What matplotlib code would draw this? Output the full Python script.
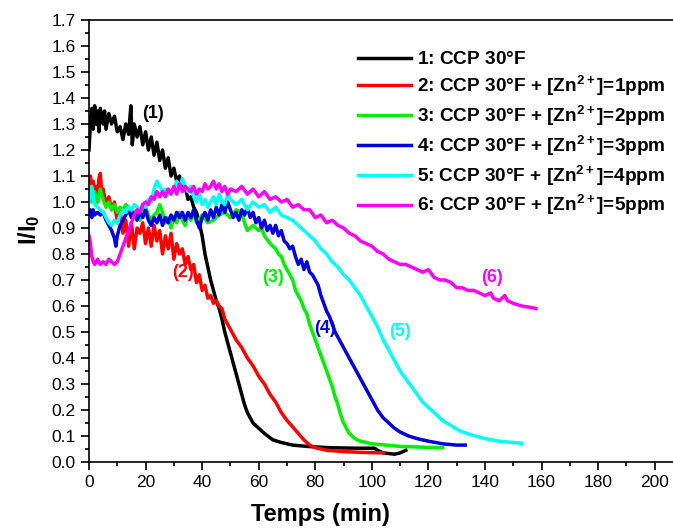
import numpy as np
import matplotlib
matplotlib.use("Agg")
import matplotlib.pyplot as plt
from matplotlib.ticker import MultipleLocator, FormatStrFormatter

# --- datos ---
t1 = [0, 0.5, 1, 1.5, 2, 2.5, 3, 3.5, 4, 5, 5.5, 6, 7, 8, 9, 10, 11, 12, 13, 14, 14.8, 15.3,
      16, 17, 18, 19, 20, 21, 22, 23, 24, 25, 26, 27, 28, 29, 30, 31, 32, 33, 34, 35, 36,
      37, 38, 39, 40, 41, 42, 43, 44, 45, 46, 47, 48, 49, 50, 51, 52, 53, 54, 55, 56, 57,
      58, 60, 62, 65, 68, 72, 77, 85, 95, 101, 102, 104, 108, 110, 112]
y1 = [1.20, 1.30, 1.36, 1.28, 1.37, 1.30, 1.35, 1.27, 1.36, 1.30, 1.35, 1.28, 1.34, 1.30,
      1.33, 1.27, 1.29, 1.24, 1.30, 1.26, 1.37, 1.22, 1.30, 1.25, 1.29, 1.22, 1.27, 1.20,
      1.25, 1.18, 1.23, 1.16, 1.20, 1.13, 1.17, 1.10, 1.13, 1.08, 1.10, 1.05, 1.06, 1.01,
      1.02, 0.98, 0.96, 0.92, 0.87, 0.80, 0.75, 0.70, 0.66, 0.62, 0.59, 0.55, 0.50, 0.46,
      0.42, 0.38, 0.34, 0.30, 0.26, 0.22, 0.19, 0.17, 0.15, 0.13, 0.11, 0.085, 0.075,
      0.065, 0.060, 0.055, 0.053, 0.053, 0.045, 0.035, 0.030, 0.035, 0.045]

t2 = [0, 0.5, 1, 1.5, 2, 2.5, 3, 3.5, 4, 4.5, 5, 6, 7, 8, 9, 10, 11, 12, 13, 14, 15, 16,
      17, 18, 19, 20, 21, 22, 23, 24, 25, 26, 27, 28, 29, 30, 31, 32, 33, 34, 35, 36, 37,
      38, 39, 40, 41, 42, 43, 44, 45, 46, 47, 48, 49, 50, 52, 54, 56, 58, 60, 62, 64, 66,
      68, 70, 72, 74, 76, 78, 80, 84, 90, 96, 104]
y2 = [1.05, 1.10, 1.04, 1.08, 1.02, 1.06, 1.00, 1.09, 1.11, 1.03, 1.05, 0.99, 1.02, 0.97,
      1.00, 0.92, 0.97, 0.88, 0.93, 0.83, 0.92, 0.82, 0.90, 0.88, 0.92, 0.84, 0.90, 0.83,
      0.91, 0.85, 0.89, 0.80, 0.87, 0.82, 0.88, 0.78, 0.84, 0.80, 0.82, 0.76, 0.79, 0.74,
      0.76, 0.69, 0.72, 0.66, 0.68, 0.63, 0.64, 0.61, 0.62, 0.60, 0.59, 0.55, 0.53, 0.51,
      0.47, 0.44, 0.40, 0.37, 0.33, 0.30, 0.26, 0.23, 0.19, 0.16, 0.135, 0.11, 0.085,
      0.065, 0.055, 0.045, 0.040, 0.037, 0.035]

t3 = [0, 0.5, 1, 2, 3, 4, 5, 6, 7, 8, 9, 10, 11, 12, 13, 14, 15, 16, 17, 18, 19, 20, 21,
      22, 23, 24, 25, 26, 27, 28, 29, 30, 31, 32, 33, 34, 35, 36, 37, 38, 40, 42, 44, 46,
      48, 50, 52, 54, 55, 56, 57, 58, 60, 61, 62, 64, 65, 66, 67, 68, 69, 70, 71, 72, 73,
      74, 75, 76, 77, 78, 79, 80, 81, 82, 83, 84, 85, 86, 87, 88, 89, 90, 91, 92, 94, 96,
      100, 105, 110, 118, 125]
y3 = [1.04, 1.06, 1.00, 1.04, 1.00, 1.05, 1.01, 0.98, 1.00, 0.97, 0.99, 0.96, 0.98, 0.97,
      0.99, 0.98, 0.97, 0.95, 0.97, 0.93, 0.97, 0.98, 0.95, 0.93, 0.95, 0.96, 0.99, 0.96,
      0.92, 0.94, 0.90, 0.94, 0.92, 0.96, 0.93, 0.91, 0.95, 0.93, 0.96, 0.92, 0.95, 0.92,
      0.93, 0.95, 0.96, 0.94, 0.97, 0.96, 0.92, 0.89, 0.90, 0.91, 0.89, 0.90, 0.87, 0.84,
      0.83, 0.82, 0.80, 0.79, 0.76, 0.74, 0.72, 0.70, 0.66, 0.64, 0.62, 0.59, 0.57, 0.53,
      0.50, 0.47, 0.44, 0.41, 0.38, 0.35, 0.32, 0.29, 0.25, 0.22, 0.18, 0.15, 0.13, 0.11,
      0.09, 0.08, 0.07, 0.065, 0.060, 0.057, 0.055]

t4 = [0, 0.5, 1, 1.5, 2, 3, 4, 5, 6, 7, 8, 9, 9.5, 10, 11, 12, 13, 14, 15, 16, 17, 18, 19,
      20, 21, 22, 23, 24, 25, 26, 27, 28, 29, 30, 31, 32, 33, 34, 35, 36, 37, 38, 39, 40,
      41, 42, 43, 44, 45, 46, 47, 48, 49, 50, 51, 52, 53, 54, 55, 56, 57, 58, 59, 60, 61,
      62, 63, 64, 65, 66, 67, 68, 69, 70, 71, 72, 73, 74, 75, 76, 77, 78, 79, 80, 81, 82,
      83, 84, 85, 86, 87, 88, 89, 90, 91, 92, 93, 94, 95, 96, 97, 98, 99, 100, 102, 104,
      106, 108, 110, 113, 116, 120, 125, 130, 133]
y4 = [0.95, 0.97, 0.94, 0.97, 0.95, 0.96, 0.95, 0.96, 0.93, 0.91, 0.89, 0.86, 0.83, 0.87,
      0.91, 0.93, 0.95, 0.97, 0.94, 0.96, 0.93, 0.96, 0.94, 0.97, 0.93, 0.91, 0.94, 0.92,
      0.95, 0.91, 0.94, 0.92, 0.95, 0.93, 0.96, 0.94, 0.96, 0.93, 0.96, 0.94, 0.97, 0.93,
      0.90, 0.94, 0.96, 0.93, 0.97, 0.94, 0.98, 0.95, 0.99, 0.96, 1.00, 0.97, 0.94, 0.96,
      0.93, 0.97, 0.95, 0.98, 0.94, 0.96, 0.92, 0.94, 0.90, 0.93, 0.89, 0.91, 0.88, 0.91,
      0.87, 0.89, 0.85, 0.84, 0.82, 0.83, 0.79, 0.76, 0.78, 0.74, 0.77, 0.73, 0.72, 0.70,
      0.68, 0.64, 0.61, 0.58, 0.56, 0.53, 0.50, 0.48, 0.46, 0.44, 0.42, 0.40, 0.38, 0.36,
      0.34, 0.32, 0.30, 0.28, 0.26, 0.24, 0.20, 0.17, 0.15, 0.13, 0.115, 0.10, 0.09, 0.08,
      0.07, 0.065, 0.065]

t5 = [0, 0.5, 1, 1.5, 2, 3, 4, 5, 6, 7, 8, 9, 10, 11, 12, 13, 14, 15, 16, 17, 18, 19, 20,
      21, 22, 23, 24, 25, 26, 27, 28, 29, 30, 31, 32, 33, 34, 35, 36, 37, 38, 39, 40, 41,
      42, 43, 44, 45, 46, 47, 48, 49, 50, 52, 54, 56, 58, 60, 62, 64, 66, 68, 70, 72, 74,
      76, 78, 80, 82, 84, 86, 88, 90, 92, 94, 96, 98, 100, 102, 104, 106, 108, 110, 112,
      114, 116, 118, 120, 122, 125, 128, 131, 135, 140, 145, 150, 153]
y5 = [1.00, 1.05, 1.06, 1.02, 0.99, 0.98, 0.97, 0.96, 0.94, 0.92, 0.91, 0.93, 0.92, 0.95,
      0.97, 0.96, 0.98, 0.97, 0.99, 0.98, 0.97, 0.99, 0.98, 1.01, 1.00, 1.05, 1.08, 1.06,
      1.04, 1.05, 1.03, 1.04, 1.05, 1.08, 1.05, 1.09, 1.06, 1.04, 1.06, 1.02, 1.00, 1.03,
      0.99, 1.01, 0.98, 1.00, 1.02, 0.99, 1.03, 1.00, 0.99, 1.03, 1.01, 0.99, 1.01, 0.97,
      1.00, 0.98, 0.99, 0.96, 0.98, 0.95, 0.94, 0.93, 0.91, 0.89, 0.87, 0.85, 0.82, 0.80,
      0.77, 0.75, 0.72, 0.70, 0.67, 0.64, 0.60, 0.56, 0.52, 0.47, 0.43, 0.39, 0.35, 0.32,
      0.29, 0.26, 0.23, 0.21, 0.19, 0.16, 0.14, 0.12, 0.105, 0.09, 0.08, 0.075, 0.072]

t6 = [0, 0.5, 1, 1.5, 2, 3, 4, 5, 6, 7, 8, 9, 10, 11, 12, 13, 14, 15, 16, 17, 18, 19, 20,
      21, 22, 23, 24, 25, 26, 27, 28, 29, 30, 31, 32, 33, 34, 35, 36, 37, 38, 39, 40, 41,
      42, 43, 44, 45, 46, 47, 48, 49, 50, 52, 54, 56, 58, 60, 62, 64, 66, 68, 70, 72, 74,
      76, 78, 80, 82, 84, 86, 88, 90, 92, 94, 96, 98, 100, 102, 104, 106, 108, 110, 112,
      114, 116, 118, 120, 122, 124, 126, 128, 130, 132, 134, 136, 138, 140, 142, 143, 145,
      147, 148, 150, 153, 156, 158]
y6 = [0.87, 0.84, 0.79, 0.77, 0.76, 0.78, 0.76, 0.77, 0.76, 0.78, 0.77, 0.76, 0.77, 0.80,
      0.83, 0.86, 0.89, 0.92, 0.95, 0.97, 0.96, 0.99, 1.00, 0.99, 1.02, 1.01, 1.04, 1.02,
      1.04, 1.02, 1.05, 1.03, 1.06, 1.03, 1.07, 1.04, 1.06, 1.05, 1.04, 1.06, 1.03, 1.05,
      1.04, 1.07, 1.05, 1.06, 1.08, 1.05, 1.07, 1.04, 1.06, 1.03, 1.05, 1.04, 1.06, 1.03,
      1.05, 1.02, 1.04, 1.01, 1.02, 1.00, 1.01, 0.98, 0.99, 0.97, 0.97, 0.94, 0.95, 0.92,
      0.93, 0.91, 0.90, 0.88, 0.87, 0.85, 0.84, 0.83, 0.81, 0.80, 0.78, 0.77, 0.76, 0.76,
      0.75, 0.74, 0.73, 0.74, 0.71, 0.70, 0.70, 0.69, 0.67, 0.67, 0.66, 0.66, 0.65, 0.64,
      0.65, 0.63, 0.62, 0.64, 0.62, 0.61, 0.60, 0.595, 0.59]

series = [(t1, y1, "black", r"1: CCP 30°F$^{\ }$", "(1)", 22.6, 1.34),
          (t2, y2, "#ff0000", r"2: CCP 30°F + [Zn$^{2+}$]=1ppm", "(2)", 33.2, 0.73),
          (t3, y3, "#00ee00", r"3: CCP 30°F + [Zn$^{2+}$]=2ppm", "(3)", 65.0, 0.71),
          (t4, y4, "#0000dd", r"4: CCP 30°F + [Zn$^{2+}$]=3ppm", "(4)", 83.4, 0.515),
          (t5, y5, "#00ffff", r"5: CCP 30°F + [Zn$^{2+}$]=4ppm", "(5)", 110.0, 0.50),
          (t6, y6, "#ff00ff", r"6: CCP 30°F + [Zn$^{2+}$]=5ppm", "(6)", 142.4, 0.71)]

plt.rcParams['font.family'] = ['Liberation Sans', 'DejaVu Sans']
plt.rcParams['mathtext.fontset'] = 'custom'
plt.rcParams['mathtext.rm'] = 'Liberation Sans:bold'
plt.rcParams['mathtext.it'] = 'Liberation Sans:bold'
plt.rcParams['mathtext.bf'] = 'Liberation Sans:bold'

fig = plt.figure(figsize=(6.73, 5.29), dpi=100)
ax = fig.add_axes([89 / 673, 67 / 529, 594 / 673, 442 / 529])

for t, y, c, lab, tag, tx, ty in series:
    ax.plot(t, y, color=c, lw=2.5, label=lab)
    ax.text(tx, ty, tag, color=c, fontsize=13, fontweight='bold', ha='center', va='center')

ax.set_xlim(0, 210)
ax.set_ylim(0, 1.7)
ax.xaxis.set_major_locator(MultipleLocator(20))
ax.xaxis.set_minor_locator(MultipleLocator(10))
ax.yaxis.set_major_locator(MultipleLocator(0.1))
ax.yaxis.set_minor_locator(MultipleLocator(0.05))
ax.yaxis.set_major_formatter(FormatStrFormatter('%.1f'))
ax.xaxis.set_major_formatter(FormatStrFormatter('%d'))
ax.set_xticks([0, 20, 40, 60, 80, 100, 120, 140, 160, 180, 200])
ax.tick_params(which='both', direction='out', width=1.2, labelsize=12.5)
ax.tick_params(which='major', length=6)
ax.tick_params(which='minor', length=3)
ax.spines['right'].set_visible(False)
for s in ['left', 'bottom', 'top']:
    ax.spines[s].set_linewidth(1.2)

ax.set_xlabel('Temps (min)', fontsize=17, fontweight='bold')
ax.set_ylabel(r'I/I$_0$', fontsize=17, fontweight='bold')
ax.xaxis.set_label_coords(0.39, -0.093)
ax.yaxis.set_label_coords(-0.079, 0.525)

ax.legend(loc='upper left', bbox_to_anchor=(358 / 673, 1 - 51 / 529), bbox_transform=fig.transFigure,
          frameon=False, prop={'weight': 'bold', 'size': 13.7}, handlelength=2.8,
          handletextpad=0.3, labelspacing=0.3, borderpad=0, borderaxespad=0)

fig.savefig('out.png', dpi=100)
